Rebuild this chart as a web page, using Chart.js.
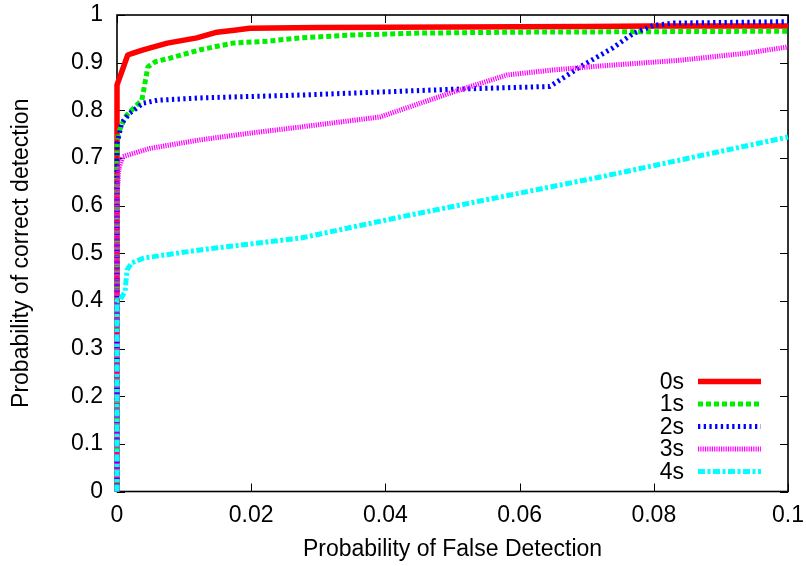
<!DOCTYPE html>
<html>
<head>
<meta charset="utf-8">
<script src="https://cdn.jsdelivr.net/npm/chart.js@4.4.1/dist/chart.umd.min.js"></script>
<style>
  html, body { margin: 0; padding: 0; background: #fff; }
</style>
</head>
<body>
<canvas id="roc" width="806" height="566"></canvas>
<script>
// series names
const seriesLabels = ['0s', '1s', '2s', '3s', '4s'];

// false detection probability (x) / correct detection probability (y)
const fpr0s = [0, 0, 0.0016, 0.0024, 0.0039, 0.0075, 0.0119, 0.0149, 0.0175, 0.0198, 0.03, 0.05, 0.07, 0.08, 0.1];
const pd0s  = [0, 0.853, 0.916, 0.92, 0.927, 0.941, 0.952, 0.964, 0.968, 0.972, 0.974, 0.975, 0.976, 0.977, 0.977];

const fpr1s = [0, 0, 0.0002, 0.0012, 0.0025, 0.0037, 0.0046, 0.0057, 0.0075, 0.0124, 0.0173, 0.0224, 0.0274, 0.035, 0.045, 0.06, 0.08, 0.1];
const pd1s  = [0, 0.72, 0.752, 0.786, 0.805, 0.821, 0.891, 0.902, 0.908, 0.927, 0.941, 0.945, 0.952, 0.958, 0.962, 0.964, 0.965, 0.966];

const fpr2s = [0, 0, 0.0007, 0.0019, 0.0039, 0.006, 0.0124, 0.0274, 0.0498, 0.0645, 0.0665, 0.069, 0.0739, 0.0769, 0.0799, 0.0829, 0.1];
const pd2s  = [0, 0.73, 0.773, 0.794, 0.815, 0.821, 0.826, 0.832, 0.844, 0.85, 0.868, 0.891, 0.931, 0.961, 0.978, 0.983, 0.986];

const fpr3s = [0, 0, 0.0003, 0.0009, 0.0049, 0.0124, 0.0198, 0.0274, 0.0392, 0.0496, 0.0581, 0.0645, 0.072, 0.0839, 0.0939, 0.1];
const pd3s  = [0, 0.62, 0.68, 0.703, 0.72, 0.738, 0.752, 0.765, 0.786, 0.836, 0.874, 0.884, 0.893, 0.905, 0.92, 0.933];

const fpr4s = [0, 0, 0.0004, 0.0012, 0.0015, 0.0022, 0.004, 0.0124, 0.0274, 0.0422, 0.0571, 0.072, 0.1];
const pd4s  = [0, 0.40, 0.401, 0.42, 0.465, 0.48, 0.49, 0.507, 0.532, 0.576, 0.618, 0.66, 0.744];

// axis ticks
const xTickValues = [0, 0.02, 0.04, 0.06, 0.08, 0.1];
const xTickLabels = ['0', '0.02', '0.04', '0.06', '0.08', '0.1'];
const yTickValues = [0, 0.1, 0.2, 0.3, 0.4, 0.5, 0.6, 0.7, 0.8, 0.9, 1];
const yTickLabels = ['0', '0.1', '0.2', '0.3', '0.4', '0.5', '0.6', '0.7', '0.8', '0.9', '1'];

const FONT = "'Liberation Sans', Arial, sans-serif";

function toPoints(xs, ys) {
  return xs.map((x, i) => ({ x: x, y: ys[i] }));
}

// the layout padding alone decides where the plot box sits
function noLabelPadding(s) {
  s.paddingTop = 0;
  s.paddingBottom = 0;
  s.paddingLeft = 0;
  s.paddingRight = 0;
}

// gnuplot style box: border + inward ticks on all four sides
const frame = {
  id: 'frame',
  beforeDatasetsDraw(chart) {
    const { ctx, chartArea: a, scales } = chart;
    const len = 8;
    ctx.save();
    ctx.strokeStyle = '#000';
    ctx.lineWidth = 1;
    ctx.beginPath();
    xTickValues.forEach(v => {
      const px = Math.round(scales.x.getPixelForValue(v)) + 0.5;
      ctx.moveTo(px, a.bottom); ctx.lineTo(px, a.bottom - len);
      ctx.moveTo(px, a.top); ctx.lineTo(px, a.top + len);
    });
    yTickValues.forEach(v => {
      const py = Math.round(scales.y.getPixelForValue(v)) + 0.5;
      ctx.moveTo(a.left, py); ctx.lineTo(a.left + len, py);
      ctx.moveTo(a.right, py); ctx.lineTo(a.right - len, py);
    });
    ctx.stroke();
    ctx.lineWidth = 1.6;
    ctx.strokeRect(a.left, a.top, a.right - a.left, a.bottom - a.top);
    ctx.restore();
  }
};

// legend in the lower right: label first, line sample after
const keyBox = {
  id: 'keyBox',
  afterDraw(chart) {
    const { ctx, chartArea: a } = chart;
    ctx.save();
    ctx.font = '23px ' + FONT;
    ctx.textAlign = 'right';
    ctx.textBaseline = 'middle';
    chart.data.datasets.forEach((ds, i) => {
      const y = a.bottom - 110 + i * 22.5;
      ctx.fillStyle = '#000';
      ctx.fillText(ds.label, a.right - 104, y + 1);
      ctx.strokeStyle = ds.borderColor;
      ctx.lineWidth = ds.borderWidth;
      ctx.lineCap = 'butt';
      ctx.setLineDash(ds.borderDash);
      ctx.beginPath();
      ctx.moveTo(a.right - 90, y);
      ctx.lineTo(a.right - 27, y);
      ctx.stroke();
    });
    ctx.restore();
  }
};

function line(label, xs, ys, color, dash, width, order) {
  return {
    label: label,
    data: toPoints(xs, ys),
    borderColor: color,
    borderWidth: width,
    borderDash: dash,
    borderCapStyle: 'butt',
    borderJoinStyle: 'round',
    pointRadius: 0,
    fill: false,
    tension: 0,
    clip: 10,
    order: order
  };
}

new Chart(document.getElementById('roc'), {
  type: 'line',
  data: {
    datasets: [
      line(seriesLabels[0], fpr0s, pd0s, '#ff0000', [], 5.5, 4),
      line(seriesLabels[1], fpr1s, pd1s, '#00ee00', [5, 3], 5, 3),
      line(seriesLabels[2], fpr2s, pd2s, '#0000ff', [2.3, 3.4], 5, 2),
      line(seriesLabels[3], fpr3s, pd3s, '#ff00ff', [1.2, 1.1], 5, 1),
      line(seriesLabels[4], fpr4s, pd4s, '#00ffff', [7, 2.5, 3, 2.5], 5, 0)
    ]
  },
  options: {
    responsive: false,
    animation: false,
    layout: { padding: { left: 0, right: 18, top: 15, bottom: 0 } },
    plugins: {
      legend: { display: false },
      tooltip: { enabled: false }
    },
    scales: {
      x: {
        type: 'linear',
        min: 0,
        max: 0.1,
        grid: { display: false, drawTicks: false },
        border: { display: false },
        afterBuildTicks: s => { s.ticks = xTickValues.map(v => ({ value: v })); },
        afterFit: s => { s.height = 74.5; noLabelPadding(s); },
        ticks: {
          autoSkip: false,
          maxRotation: 0,
          padding: 10,
          color: '#000',
          font: { family: FONT, size: 23 },
          callback: (v, i) => xTickLabels[i]
        },
        title: {
          display: true,
          text: 'Probability of False Detection',
          color: '#000',
          font: { family: FONT, size: 23 },
          padding: { top: 0, bottom: 3 }
        }
      },
      y: {
        type: 'linear',
        min: 0,
        max: 1,
        grid: { display: false, drawTicks: false },
        border: { display: false },
        afterBuildTicks: s => { s.ticks = yTickValues.map(v => ({ value: v })); },
        afterFit: s => { s.width = 117; noLabelPadding(s); },
        ticks: {
          autoSkip: false,
          padding: 14,
          color: '#000',
          font: { family: FONT, size: 23 },
          callback: (v, i) => yTickLabels[i]
        },
        title: {
          display: true,
          text: 'Probability of correct detection',
          color: '#000',
          font: { family: FONT, size: 23 },
          padding: { top: 8, bottom: 0 }
        }
      }
    }
  },
  plugins: [frame, keyBox]
});
</script>
</body>
</html>
